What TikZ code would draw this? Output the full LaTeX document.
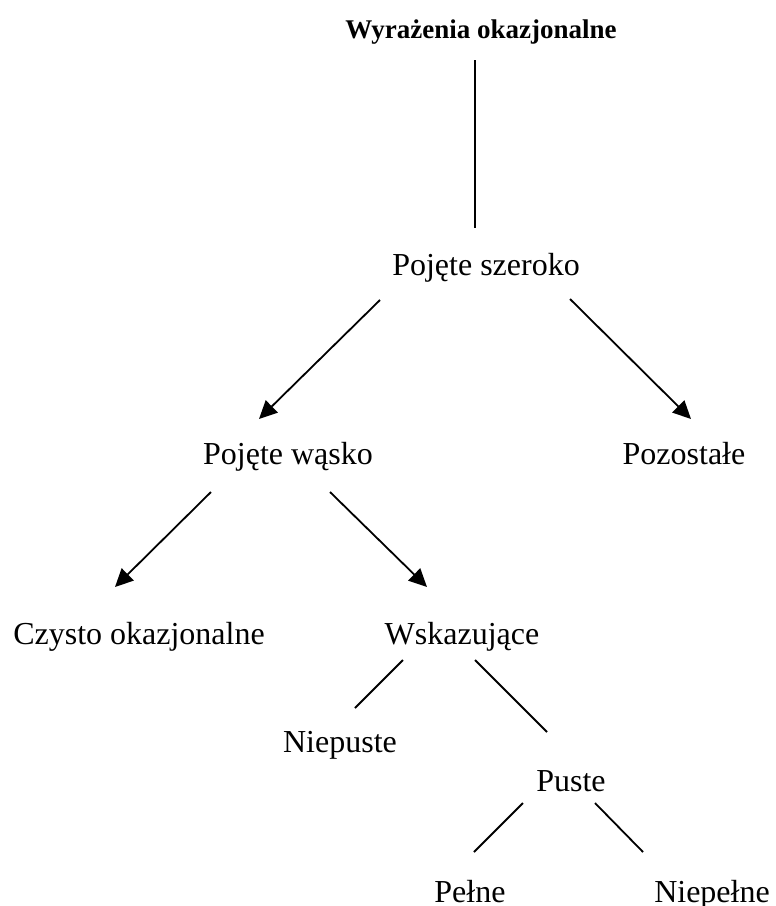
\documentclass[tikz,border=0pt]{standalone}
\usepackage{fontspec}
\setmainfont{Liberation Serif}
\usepackage{tikz}
\usetikzlibrary{arrows.meta}

\begin{document}
\begin{tikzpicture}[
  x=0.5pt,y=-0.5pt,
  term/.style={inner sep=0pt,anchor=base,font=\fontsize{16pt}{19pt}\selectfont},
  head/.style={inner sep=0pt,anchor=base,font=\fontsize{13.5pt}{16pt}\selectfont\bfseries},
  edge/.style={line width=0.9pt},
  arr/.style={edge,-{Triangle[length=9pt,width=8.5pt]}}
]
  \useasboundingbox (0,0) rectangle (776,906);

  % tree of terms
  \node[head] (title) at (481,38) {Wyrażenia okazjonalne};
  \node[term] (szer) at (486,275) {Pojęte szeroko};
  \node[term] (wask) at (288,464) {Pojęte wąsko};
  \node[term] (pozo) at (684,464) {Pozostałe};
  \node[term] (czysto) at (139,644) {Czysto okazjonalne};
  \node[term] (wskaz) at (462,644) {Wskazujące};
  \node[term] (niepu) at (340,752) {Niepuste};
  \node[term] (puste) at (571,791) {Puste};
  \node[term] (pelne) at (470,902) {Pełne};
  \node[term] (niepel) at (712,902) {Niepełne};

  \draw[edge] ([shift={(-6,22)}]title.base) -- ([shift={(-11,-47)}]szer.base);

  \draw[arr] ([shift={(-106,25)}]szer.base) -- ([shift={(-29,-45)}]wask.base);
  \draw[arr] ([shift={(84,24)}]szer.base) -- ([shift={(7,-45)}]pozo.base);
  \draw[arr] ([shift={(-77,28)}]wask.base) -- ([shift={(-24,-57)}]czysto.base);
  \draw[arr] ([shift={(42,28)}]wask.base) -- ([shift={(-35,-57)}]wskaz.base);

  \draw[edge] ([shift={(-59,16)}]wskaz.base) -- ([shift={(15,-44)}]niepu.base);
  \draw[edge] ([shift={(13,16)}]wskaz.base) -- ([shift={(-24,-59)}]puste.base);
  \draw[edge] ([shift={(-48,12)}]puste.base) -- ([shift={(4,-50)}]pelne.base);
  \draw[edge] ([shift={(24,12)}]puste.base) -- ([shift={(-69,-50)}]niepel.base);
\end{tikzpicture}
\end{document}
